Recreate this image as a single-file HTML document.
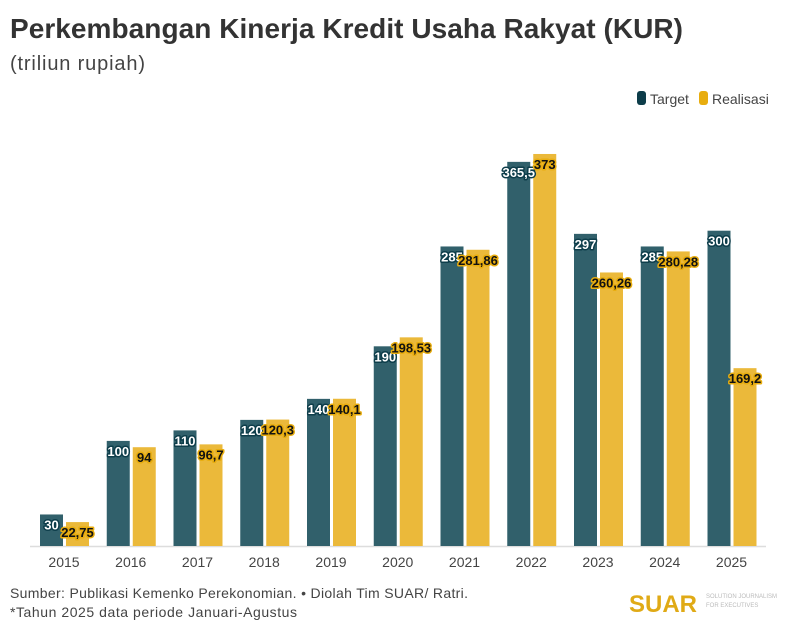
<!DOCTYPE html>
<html><head><meta charset="utf-8"><style>
body{margin:0;background:#fff;width:795px;height:632px;overflow:hidden;font-family:"Liberation Sans",sans-serif}
</style></head><body>
<svg width="795" height="632" xmlns="http://www.w3.org/2000/svg" font-family="Liberation Sans, sans-serif">
<text x="10" y="38" font-size="28" font-weight="bold" fill="#333" textLength="673">Perkembangan Kinerja Kredit Usaha Rakyat (KUR)</text>
<text x="10" y="70" font-size="20" fill="#444" textLength="135">(triliun rupiah)</text>
<rect x="637" y="91" width="9" height="14" rx="3" fill="#0d3d4a"/>
<text x="650" y="104" font-size="14" fill="#444">Target</text>
<rect x="699" y="91" width="9" height="14" rx="3" fill="#e8ad0f"/>
<text x="712" y="104" font-size="14" fill="#444">Realisasi</text>
<line x1="30" y1="546.5" x2="766" y2="546.5" stroke="#ddd" stroke-width="1.5"/>
<g id="bars"></g>
<text x="10" y="598" font-size="14" fill="#444" textLength="458">Sumber: Publikasi Kemenko Perekonomian. • Diolah Tim SUAR/ Ratri.</text>
<text x="10" y="617" font-size="14" fill="#444" textLength="287">*Tahun 2025 data periode Januari-Agustus</text>
<text x="629" y="612" font-size="24" font-weight="bold" fill="#e0aa16">SUAR</text>
<text x="706" y="598" font-size="6" fill="#bbb">SOLUTION JOURNALISM</text>
<text x="706" y="607" font-size="6" fill="#bbb">FOR EXECUTIVES</text>
</svg>
<script>
var d=[[2015,30,22.75,"30","22,75"],[2016,100,94,"100","94"],[2017,110,96.7,"110","96,7"],[2018,120,120.3,"120","120,3"],[2019,140,140.1,"140","140,1"],[2020,190,198.53,"190","198,53"],[2021,285,281.86,"285","281,86"],[2022,365.5,373,"365,5","373"],[2023,297,260.26,"297","260,26"],[2024,285,280.28,"285","280,28"],[2025,300,169.2,"300","169,2"]];
var g=document.getElementById("bars"),s="",B=546,k=1.051;
d.forEach(function(r,i){var c=64+i*66.75;var tx=c-24,rx=c+2,th=r[1]*k,rh=r[2]*k;
s+='<rect x="'+tx+'" y="'+(B-th)+'" width="23" height="'+th+'" fill="#31606b"/>';
s+='<rect x="'+rx+'" y="'+(B-rh)+'" width="23" height="'+rh+'" fill="#ebb93a"/>';
s+='<text x="'+(tx+11.5)+'" y="'+(B-th+15)+'" text-anchor="middle" font-size="13" font-weight="bold" fill="#fff" stroke="#0d3d4a" stroke-width="3" paint-order="stroke" stroke-linejoin="round">'+r[3]+'</text>';
s+='<text x="'+(rx+11.5)+'" y="'+(B-rh+15)+'" text-anchor="middle" font-size="13" font-weight="bold" fill="#111" stroke="#e8ad0f" stroke-width="3" paint-order="stroke" stroke-linejoin="round">'+r[4]+'</text>';
s+='<text x="'+c+'" y="567" text-anchor="middle" font-size="14" fill="#444">'+r[0]+'</text>';});
g.innerHTML=s;
</script>
</body></html>
